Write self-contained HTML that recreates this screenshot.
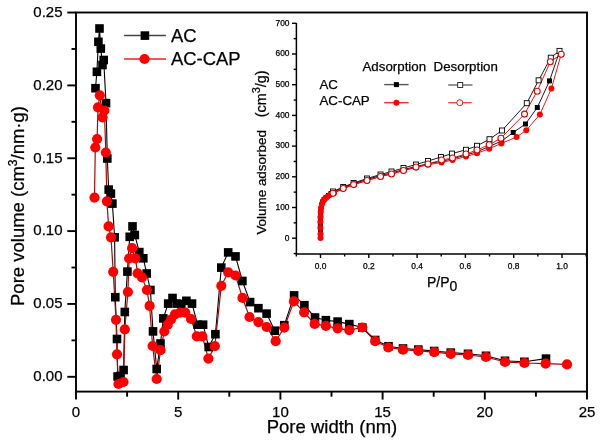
<!DOCTYPE html><html><head><meta charset="utf-8"><style>html,body{margin:0;padding:0;background:#fff;}svg{display:block;}text{font-family:"Liberation Sans", Arial, sans-serif;stroke:#000;stroke-width:0.25px;}</style></head><body>
<svg width="600" height="440" viewBox="0 0 600 440">
<rect width="600" height="440" fill="#fff"/>
<rect x="76.0" y="12.5" width="511.0" height="379.1" fill="none" stroke="#000" stroke-width="1.9"/>
<line x1="67.3" y1="376.80" x2="76.0" y2="376.80" stroke="#000" stroke-width="1.9"/>
<text x="62.5" y="381.10" font-size="15" text-anchor="end">0.00</text>
<line x1="67.3" y1="303.95" x2="76.0" y2="303.95" stroke="#000" stroke-width="1.9"/>
<text x="62.5" y="308.25" font-size="15" text-anchor="end">0.05</text>
<line x1="67.3" y1="231.10" x2="76.0" y2="231.10" stroke="#000" stroke-width="1.9"/>
<text x="62.5" y="235.40" font-size="15" text-anchor="end">0.10</text>
<line x1="67.3" y1="158.25" x2="76.0" y2="158.25" stroke="#000" stroke-width="1.9"/>
<text x="62.5" y="162.55" font-size="15" text-anchor="end">0.15</text>
<line x1="67.3" y1="85.40" x2="76.0" y2="85.40" stroke="#000" stroke-width="1.9"/>
<text x="62.5" y="89.70" font-size="15" text-anchor="end">0.20</text>
<line x1="67.3" y1="12.55" x2="76.0" y2="12.55" stroke="#000" stroke-width="1.9"/>
<text x="62.5" y="16.85" font-size="15" text-anchor="end">0.25</text>
<line x1="71.5" y1="340.38" x2="76.0" y2="340.38" stroke="#000" stroke-width="1.9"/>
<line x1="71.5" y1="267.52" x2="76.0" y2="267.52" stroke="#000" stroke-width="1.9"/>
<line x1="71.5" y1="194.68" x2="76.0" y2="194.68" stroke="#000" stroke-width="1.9"/>
<line x1="71.5" y1="121.82" x2="76.0" y2="121.82" stroke="#000" stroke-width="1.9"/>
<line x1="71.5" y1="48.98" x2="76.0" y2="48.98" stroke="#000" stroke-width="1.9"/>
<line x1="76.00" y1="391.6" x2="76.00" y2="399.6" stroke="#000" stroke-width="1.9"/>
<text x="76.00" y="417" font-size="15" text-anchor="middle">0</text>
<line x1="178.20" y1="391.6" x2="178.20" y2="399.6" stroke="#000" stroke-width="1.9"/>
<text x="178.20" y="417" font-size="15" text-anchor="middle">5</text>
<line x1="280.40" y1="391.6" x2="280.40" y2="399.6" stroke="#000" stroke-width="1.9"/>
<text x="280.40" y="417" font-size="15" text-anchor="middle">10</text>
<line x1="382.60" y1="391.6" x2="382.60" y2="399.6" stroke="#000" stroke-width="1.9"/>
<text x="382.60" y="417" font-size="15" text-anchor="middle">15</text>
<line x1="484.80" y1="391.6" x2="484.80" y2="399.6" stroke="#000" stroke-width="1.9"/>
<text x="484.80" y="417" font-size="15" text-anchor="middle">20</text>
<line x1="587.00" y1="391.6" x2="587.00" y2="399.6" stroke="#000" stroke-width="1.9"/>
<text x="587.00" y="417" font-size="15" text-anchor="middle">25</text>
<line x1="127.10" y1="391.6" x2="127.10" y2="396.7" stroke="#000" stroke-width="1.9"/>
<line x1="229.30" y1="391.6" x2="229.30" y2="396.7" stroke="#000" stroke-width="1.9"/>
<line x1="331.50" y1="391.6" x2="331.50" y2="396.7" stroke="#000" stroke-width="1.9"/>
<line x1="433.70" y1="391.6" x2="433.70" y2="396.7" stroke="#000" stroke-width="1.9"/>
<line x1="535.90" y1="391.6" x2="535.90" y2="396.7" stroke="#000" stroke-width="1.9"/>
<text x="332" y="432.5" font-size="18.5" text-anchor="middle">Pore width (nm)</text>
<text transform="translate(24.3,206) rotate(-90)" font-size="18.5" text-anchor="middle">Pore volume (cm<tspan font-size="12" dy="-7">3</tspan><tspan dy="7">/nm·g)</tspan></text>
<polyline points="95.5,88.2 96.9,71.8 98.4,41.8 99.5,28.5 100.8,48.6 102.5,65.0 103.7,60.0 106.0,103.1 107.3,158.5 108.7,189.6 110.9,193.6 112.4,203.6 114.6,237.3 115.3,297.2 117.0,339.0 117.6,376.5 120.5,376.0 123.6,370.0 124.8,312.0 127.4,271.6 129.7,236.8 132.5,226.4 134.8,235.0 139.3,252.1 143.3,258.3 146.7,273.5 150.4,290.0 153.0,331.4 156.7,369.0 160.5,343.5 163.3,318.4 168.2,303.6 172.5,298.0 176.8,303.6 181.3,304.0 186.4,300.8 192.0,303.6 197.6,324.7 203.1,324.7 208.7,347.0 215.4,334.2 221.3,267.6 228.2,252.4 235.5,256.4 242.4,281.0 250.1,302.1 258.4,308.2 266.6,313.6 274.8,330.7 284.3,325.2 294.1,295.4 304.4,305.2 315.0,317.5 325.9,320.2 337.6,321.6 349.3,324.1 362.3,327.5 375.2,340.0 388.5,346.3 403.0,348.5 418.3,349.6 434.2,351.0 450.8,352.6 468.0,353.8 486.0,355.8 505.0,360.8 524.4,361.8 546.0,358.6" fill="none" stroke="#000" stroke-width="1.1"/>
<polyline points="94.5,197.6 95.3,147.5 97.1,139.0 98.0,107.3 99.8,95.3 102.5,117.3 104.4,110.5 105.8,152.5 106.9,201.3 108.6,226.4 111.0,237.3 113.2,271.8 116.0,319.8 117.0,354.3 118.5,384.0 123.5,382.0 124.8,329.4 127.9,292.0 129.1,258.5 132.1,248.2 135.4,258.3 137.6,273.4 142.0,277.3 146.9,290.0 149.6,305.9 152.6,346.0 156.7,379.0 160.5,350.2 164.3,331.5 167.7,324.7 171.0,319.5 175.0,314.4 180.2,312.7 185.3,312.7 191.0,319.0 196.8,336.3 202.3,336.3 208.4,358.6 214.8,346.2 221.3,285.8 228.2,272.4 235.5,275.5 242.5,297.9 249.5,317.0 258.4,322.1 266.6,327.0 275.7,341.2 284.3,327.6 293.9,301.4 304.1,312.3 314.7,323.9 325.9,325.9 337.6,328.3 349.3,330.2 362.3,327.5 375.2,341.2 388.3,347.5 403.0,349.7 418.3,350.8 434.2,352.2 450.8,353.8 468.0,355.0 486.0,357.0 505.0,362.0 524.4,363.0 545.6,363.6 567.0,364.4" fill="none" stroke="#a80808" stroke-width="1.2"/>
<rect x="91.2" y="83.9" width="8.6" height="8.6" fill="#000"/>
<rect x="92.6" y="67.5" width="8.6" height="8.6" fill="#000"/>
<rect x="94.1" y="37.5" width="8.6" height="8.6" fill="#000"/>
<rect x="95.2" y="24.2" width="8.6" height="8.6" fill="#000"/>
<rect x="96.5" y="44.3" width="8.6" height="8.6" fill="#000"/>
<rect x="98.2" y="60.7" width="8.6" height="8.6" fill="#000"/>
<rect x="99.4" y="55.7" width="8.6" height="8.6" fill="#000"/>
<rect x="101.7" y="98.8" width="8.6" height="8.6" fill="#000"/>
<rect x="103.0" y="154.2" width="8.6" height="8.6" fill="#000"/>
<rect x="104.4" y="185.3" width="8.6" height="8.6" fill="#000"/>
<rect x="106.6" y="189.3" width="8.6" height="8.6" fill="#000"/>
<rect x="108.1" y="199.3" width="8.6" height="8.6" fill="#000"/>
<rect x="110.3" y="233.0" width="8.6" height="8.6" fill="#000"/>
<rect x="111.0" y="292.9" width="8.6" height="8.6" fill="#000"/>
<rect x="112.7" y="334.7" width="8.6" height="8.6" fill="#000"/>
<rect x="113.3" y="372.2" width="8.6" height="8.6" fill="#000"/>
<rect x="116.2" y="371.7" width="8.6" height="8.6" fill="#000"/>
<rect x="119.3" y="365.7" width="8.6" height="8.6" fill="#000"/>
<rect x="120.5" y="307.7" width="8.6" height="8.6" fill="#000"/>
<rect x="123.1" y="267.3" width="8.6" height="8.6" fill="#000"/>
<rect x="125.4" y="232.5" width="8.6" height="8.6" fill="#000"/>
<rect x="128.2" y="222.1" width="8.6" height="8.6" fill="#000"/>
<rect x="130.5" y="230.7" width="8.6" height="8.6" fill="#000"/>
<rect x="135.0" y="247.8" width="8.6" height="8.6" fill="#000"/>
<rect x="139.0" y="254.0" width="8.6" height="8.6" fill="#000"/>
<rect x="142.4" y="269.2" width="8.6" height="8.6" fill="#000"/>
<rect x="146.1" y="285.7" width="8.6" height="8.6" fill="#000"/>
<rect x="148.7" y="327.1" width="8.6" height="8.6" fill="#000"/>
<rect x="152.4" y="364.7" width="8.6" height="8.6" fill="#000"/>
<rect x="156.2" y="339.2" width="8.6" height="8.6" fill="#000"/>
<rect x="159.0" y="314.1" width="8.6" height="8.6" fill="#000"/>
<rect x="163.9" y="299.3" width="8.6" height="8.6" fill="#000"/>
<rect x="168.2" y="293.7" width="8.6" height="8.6" fill="#000"/>
<rect x="172.5" y="299.3" width="8.6" height="8.6" fill="#000"/>
<rect x="177.0" y="299.7" width="8.6" height="8.6" fill="#000"/>
<rect x="182.1" y="296.5" width="8.6" height="8.6" fill="#000"/>
<rect x="187.7" y="299.3" width="8.6" height="8.6" fill="#000"/>
<rect x="193.3" y="320.4" width="8.6" height="8.6" fill="#000"/>
<rect x="198.8" y="320.4" width="8.6" height="8.6" fill="#000"/>
<rect x="204.4" y="342.7" width="8.6" height="8.6" fill="#000"/>
<rect x="211.1" y="329.9" width="8.6" height="8.6" fill="#000"/>
<rect x="217.0" y="263.3" width="8.6" height="8.6" fill="#000"/>
<rect x="223.9" y="248.1" width="8.6" height="8.6" fill="#000"/>
<rect x="231.2" y="252.1" width="8.6" height="8.6" fill="#000"/>
<rect x="238.1" y="276.7" width="8.6" height="8.6" fill="#000"/>
<rect x="245.8" y="297.8" width="8.6" height="8.6" fill="#000"/>
<rect x="254.1" y="303.9" width="8.6" height="8.6" fill="#000"/>
<rect x="262.3" y="309.3" width="8.6" height="8.6" fill="#000"/>
<rect x="270.5" y="326.4" width="8.6" height="8.6" fill="#000"/>
<rect x="280.0" y="320.9" width="8.6" height="8.6" fill="#000"/>
<rect x="289.8" y="291.1" width="8.6" height="8.6" fill="#000"/>
<rect x="300.1" y="300.9" width="8.6" height="8.6" fill="#000"/>
<rect x="310.7" y="313.2" width="8.6" height="8.6" fill="#000"/>
<rect x="321.6" y="315.9" width="8.6" height="8.6" fill="#000"/>
<rect x="333.3" y="317.3" width="8.6" height="8.6" fill="#000"/>
<rect x="345.0" y="319.8" width="8.6" height="8.6" fill="#000"/>
<rect x="358.0" y="323.2" width="8.6" height="8.6" fill="#000"/>
<rect x="370.9" y="335.7" width="8.6" height="8.6" fill="#000"/>
<rect x="384.2" y="342.0" width="8.6" height="8.6" fill="#000"/>
<rect x="398.7" y="344.2" width="8.6" height="8.6" fill="#000"/>
<rect x="414.0" y="345.3" width="8.6" height="8.6" fill="#000"/>
<rect x="429.9" y="346.7" width="8.6" height="8.6" fill="#000"/>
<rect x="446.5" y="348.3" width="8.6" height="8.6" fill="#000"/>
<rect x="463.7" y="349.5" width="8.6" height="8.6" fill="#000"/>
<rect x="481.7" y="351.5" width="8.6" height="8.6" fill="#000"/>
<rect x="500.7" y="356.5" width="8.6" height="8.6" fill="#000"/>
<rect x="520.1" y="357.5" width="8.6" height="8.6" fill="#000"/>
<rect x="541.7" y="354.3" width="8.6" height="8.6" fill="#000"/>
<circle cx="94.5" cy="197.6" r="5.1" fill="#ff0000"/>
<circle cx="95.3" cy="147.5" r="5.1" fill="#ff0000"/>
<circle cx="97.1" cy="139.0" r="5.1" fill="#ff0000"/>
<circle cx="98.0" cy="107.3" r="5.1" fill="#ff0000"/>
<circle cx="99.8" cy="95.3" r="5.1" fill="#ff0000"/>
<circle cx="102.5" cy="117.3" r="5.1" fill="#ff0000"/>
<circle cx="104.4" cy="110.5" r="5.1" fill="#ff0000"/>
<circle cx="105.8" cy="152.5" r="5.1" fill="#ff0000"/>
<circle cx="106.9" cy="201.3" r="5.1" fill="#ff0000"/>
<circle cx="108.6" cy="226.4" r="5.1" fill="#ff0000"/>
<circle cx="111.0" cy="237.3" r="5.1" fill="#ff0000"/>
<circle cx="113.2" cy="271.8" r="5.1" fill="#ff0000"/>
<circle cx="116.0" cy="319.8" r="5.1" fill="#ff0000"/>
<circle cx="117.0" cy="354.3" r="5.1" fill="#ff0000"/>
<circle cx="118.5" cy="384.0" r="5.1" fill="#ff0000"/>
<circle cx="123.5" cy="382.0" r="5.1" fill="#ff0000"/>
<circle cx="124.8" cy="329.4" r="5.1" fill="#ff0000"/>
<circle cx="127.9" cy="292.0" r="5.1" fill="#ff0000"/>
<circle cx="129.1" cy="258.5" r="5.1" fill="#ff0000"/>
<circle cx="132.1" cy="248.2" r="5.1" fill="#ff0000"/>
<circle cx="135.4" cy="258.3" r="5.1" fill="#ff0000"/>
<circle cx="137.6" cy="273.4" r="5.1" fill="#ff0000"/>
<circle cx="142.0" cy="277.3" r="5.1" fill="#ff0000"/>
<circle cx="146.9" cy="290.0" r="5.1" fill="#ff0000"/>
<circle cx="149.6" cy="305.9" r="5.1" fill="#ff0000"/>
<circle cx="152.6" cy="346.0" r="5.1" fill="#ff0000"/>
<circle cx="156.7" cy="379.0" r="5.1" fill="#ff0000"/>
<circle cx="160.5" cy="350.2" r="5.1" fill="#ff0000"/>
<circle cx="164.3" cy="331.5" r="5.1" fill="#ff0000"/>
<circle cx="167.7" cy="324.7" r="5.1" fill="#ff0000"/>
<circle cx="171.0" cy="319.5" r="5.1" fill="#ff0000"/>
<circle cx="175.0" cy="314.4" r="5.1" fill="#ff0000"/>
<circle cx="180.2" cy="312.7" r="5.1" fill="#ff0000"/>
<circle cx="185.3" cy="312.7" r="5.1" fill="#ff0000"/>
<circle cx="191.0" cy="319.0" r="5.1" fill="#ff0000"/>
<circle cx="196.8" cy="336.3" r="5.1" fill="#ff0000"/>
<circle cx="202.3" cy="336.3" r="5.1" fill="#ff0000"/>
<circle cx="208.4" cy="358.6" r="5.1" fill="#ff0000"/>
<circle cx="214.8" cy="346.2" r="5.1" fill="#ff0000"/>
<circle cx="221.3" cy="285.8" r="5.1" fill="#ff0000"/>
<circle cx="228.2" cy="272.4" r="5.1" fill="#ff0000"/>
<circle cx="235.5" cy="275.5" r="5.1" fill="#ff0000"/>
<circle cx="242.5" cy="297.9" r="5.1" fill="#ff0000"/>
<circle cx="249.5" cy="317.0" r="5.1" fill="#ff0000"/>
<circle cx="258.4" cy="322.1" r="5.1" fill="#ff0000"/>
<circle cx="266.6" cy="327.0" r="5.1" fill="#ff0000"/>
<circle cx="275.7" cy="341.2" r="5.1" fill="#ff0000"/>
<circle cx="284.3" cy="327.6" r="5.1" fill="#ff0000"/>
<circle cx="293.9" cy="301.4" r="5.1" fill="#ff0000"/>
<circle cx="304.1" cy="312.3" r="5.1" fill="#ff0000"/>
<circle cx="314.7" cy="323.9" r="5.1" fill="#ff0000"/>
<circle cx="325.9" cy="325.9" r="5.1" fill="#ff0000"/>
<circle cx="337.6" cy="328.3" r="5.1" fill="#ff0000"/>
<circle cx="349.3" cy="330.2" r="5.1" fill="#ff0000"/>
<circle cx="362.3" cy="327.5" r="5.1" fill="#ff0000"/>
<circle cx="375.2" cy="341.2" r="5.1" fill="#ff0000"/>
<circle cx="388.3" cy="347.5" r="5.1" fill="#ff0000"/>
<circle cx="403.0" cy="349.7" r="5.1" fill="#ff0000"/>
<circle cx="418.3" cy="350.8" r="5.1" fill="#ff0000"/>
<circle cx="434.2" cy="352.2" r="5.1" fill="#ff0000"/>
<circle cx="450.8" cy="353.8" r="5.1" fill="#ff0000"/>
<circle cx="468.0" cy="355.0" r="5.1" fill="#ff0000"/>
<circle cx="486.0" cy="357.0" r="5.1" fill="#ff0000"/>
<circle cx="505.0" cy="362.0" r="5.1" fill="#ff0000"/>
<circle cx="524.4" cy="363.0" r="5.1" fill="#ff0000"/>
<circle cx="545.6" cy="363.6" r="5.1" fill="#ff0000"/>
<circle cx="567.0" cy="364.4" r="5.1" fill="#ff0000"/>
<line x1="124.1" y1="35.6" x2="165.9" y2="35.6" stroke="#444" stroke-width="1.5"/>
<rect x="140.6" y="31.3" width="8.6" height="8.6" fill="#000"/>
<line x1="124.1" y1="59" x2="165.9" y2="59" stroke="#e82020" stroke-width="1.5"/>
<circle cx="144.5" cy="59" r="5.1" fill="#ff0000"/>
<text x="171" y="42.3" font-size="18.4">AC</text>
<text x="171" y="64.9" font-size="18.4">AC-CAP</text>
<polyline points="296.4,23.0 296.4,254.0 587.0,254.0" fill="none" stroke="#000" stroke-width="1.5"/>
<line x1="292" y1="238.20" x2="296.4" y2="238.20" stroke="#000" stroke-width="1.4"/>
<text x="289.5" y="240.50" font-size="8.4" text-anchor="end">0</text>
<line x1="292" y1="207.50" x2="296.4" y2="207.50" stroke="#000" stroke-width="1.4"/>
<text x="289.5" y="209.80" font-size="8.4" text-anchor="end">100</text>
<line x1="292" y1="176.80" x2="296.4" y2="176.80" stroke="#000" stroke-width="1.4"/>
<text x="289.5" y="179.10" font-size="8.4" text-anchor="end">200</text>
<line x1="292" y1="146.10" x2="296.4" y2="146.10" stroke="#000" stroke-width="1.4"/>
<text x="289.5" y="148.40" font-size="8.4" text-anchor="end">300</text>
<line x1="292" y1="115.40" x2="296.4" y2="115.40" stroke="#000" stroke-width="1.4"/>
<text x="289.5" y="117.70" font-size="8.4" text-anchor="end">400</text>
<line x1="292" y1="84.70" x2="296.4" y2="84.70" stroke="#000" stroke-width="1.4"/>
<text x="289.5" y="87.00" font-size="8.4" text-anchor="end">500</text>
<line x1="292" y1="54.00" x2="296.4" y2="54.00" stroke="#000" stroke-width="1.4"/>
<text x="289.5" y="56.30" font-size="8.4" text-anchor="end">600</text>
<line x1="292" y1="23.30" x2="296.4" y2="23.30" stroke="#000" stroke-width="1.4"/>
<text x="289.5" y="25.60" font-size="8.4" text-anchor="end">700</text>
<line x1="293.7" y1="253.55" x2="296.4" y2="253.55" stroke="#000" stroke-width="1.4"/>
<line x1="293.7" y1="222.85" x2="296.4" y2="222.85" stroke="#000" stroke-width="1.4"/>
<line x1="293.7" y1="192.15" x2="296.4" y2="192.15" stroke="#000" stroke-width="1.4"/>
<line x1="293.7" y1="161.45" x2="296.4" y2="161.45" stroke="#000" stroke-width="1.4"/>
<line x1="293.7" y1="130.75" x2="296.4" y2="130.75" stroke="#000" stroke-width="1.4"/>
<line x1="293.7" y1="100.05" x2="296.4" y2="100.05" stroke="#000" stroke-width="1.4"/>
<line x1="293.7" y1="69.35" x2="296.4" y2="69.35" stroke="#000" stroke-width="1.4"/>
<line x1="293.7" y1="38.65" x2="296.4" y2="38.65" stroke="#000" stroke-width="1.4"/>
<line x1="320.50" y1="254.0" x2="320.50" y2="258" stroke="#000" stroke-width="1.4"/>
<text x="320.50" y="269" font-size="8.4" text-anchor="middle">0.0</text>
<line x1="368.80" y1="254.0" x2="368.80" y2="258" stroke="#000" stroke-width="1.4"/>
<text x="368.80" y="269" font-size="8.4" text-anchor="middle">0.2</text>
<line x1="417.10" y1="254.0" x2="417.10" y2="258" stroke="#000" stroke-width="1.4"/>
<text x="417.10" y="269" font-size="8.4" text-anchor="middle">0.4</text>
<line x1="465.40" y1="254.0" x2="465.40" y2="258" stroke="#000" stroke-width="1.4"/>
<text x="465.40" y="269" font-size="8.4" text-anchor="middle">0.6</text>
<line x1="513.70" y1="254.0" x2="513.70" y2="258" stroke="#000" stroke-width="1.4"/>
<text x="513.70" y="269" font-size="8.4" text-anchor="middle">0.8</text>
<line x1="562.00" y1="254.0" x2="562.00" y2="258" stroke="#000" stroke-width="1.4"/>
<text x="562.00" y="269" font-size="8.4" text-anchor="middle">1.0</text>
<line x1="296.35" y1="254.0" x2="296.35" y2="256.5" stroke="#000" stroke-width="1.4"/>
<line x1="344.65" y1="254.0" x2="344.65" y2="256.5" stroke="#000" stroke-width="1.4"/>
<line x1="392.95" y1="254.0" x2="392.95" y2="256.5" stroke="#000" stroke-width="1.4"/>
<line x1="441.25" y1="254.0" x2="441.25" y2="256.5" stroke="#000" stroke-width="1.4"/>
<line x1="489.55" y1="254.0" x2="489.55" y2="256.5" stroke="#000" stroke-width="1.4"/>
<line x1="537.85" y1="254.0" x2="537.85" y2="256.5" stroke="#000" stroke-width="1.4"/>
<line x1="586.15" y1="254.0" x2="586.15" y2="256.5" stroke="#000" stroke-width="1.4"/>
<text x="427" y="286.7" font-size="14">P/P<tspan dy="4.6">0</tspan></text>
<text transform="translate(266.3,234.6) rotate(-90)" font-size="13.4" textLength="104.5" lengthAdjust="spacingAndGlyphs">Volume adsorbed</text>
<text transform="translate(266.2,117.3) rotate(-90)" font-size="14.4">(cm<tspan font-size="11" dy="-6.5">3</tspan><tspan dy="6.5">/g)</tspan></text>
<polyline points="320.5,237.5 320.5,230.7 320.4,225.0 320.4,219.0 320.6,214.0 320.9,209.0 321.6,205.0 322.6,202.0 324.0,199.6 326.0,197.6 328.5,195.5 331.0,193.5 333.5,192.0 343.2,187.5 354.0,183.6 367.0,179.5 380.5,175.5 391.5,173.0 403.5,169.5 416.0,166.5 428.0,163.8 441.5,161.3 452.5,158.8 466.0,155.0 477.0,151.8 489.2,146.5 501.7,141.0 513.2,132.5 525.5,124.0 537.3,107.5 549.5,80.9 559.5,51.5" fill="none" stroke="#000" stroke-width="0.9"/>
<polyline points="559.5,50.9 550.8,57.7 538.6,80.3 526.8,103.2 502.0,130.5 489.5,139.2 477.0,145.8 466.0,149.8 452.0,153.6 441.0,157.0 428.0,161.0 416.0,164.5 403.5,168.0 391.5,171.5 380.5,174.5 367.0,178.5 353.6,183.0 343.2,187.0 333.0,191.5" fill="none" stroke="#000" stroke-width="0.9"/>
<polyline points="320.5,238.0 320.5,234.0 320.4,228.0 320.4,222.0 320.5,217.0 320.7,212.0 321.1,208.0 321.9,204.0 323.2,201.0 325.0,198.8 327.3,196.8 329.8,195.0 332.0,193.8 334.0,193.0 343.2,188.5 354.0,184.6 367.0,180.5 380.5,176.5 391.5,174.0 403.5,170.5 416.0,167.5 428.0,164.8 441.5,162.5 452.5,160.0 466.0,156.5 477.0,153.3 489.2,148.7 501.3,143.5 516.6,137.0 526.3,130.2 539.9,114.5 551.4,88.5 561.2,54.2" fill="none" stroke="#e00000" stroke-width="0.9"/>
<polyline points="561.2,54.2 550.3,61.8 537.2,91.2 524.5,114.1 500.9,138.2 489.2,144.7 477.0,150.0 466.0,154.0 452.5,158.0 441.5,160.0 428.0,164.0 416.0,167.0 403.5,170.5 391.5,174.0 380.5,176.5 367.0,180.5 353.6,184.6 343.2,188.5 333.0,193.3" fill="none" stroke="#e00000" stroke-width="0.9"/>
<rect x="318.0" y="235.0" width="5.0" height="5.0" fill="#000"/>
<rect x="318.0" y="228.2" width="5.0" height="5.0" fill="#000"/>
<rect x="317.9" y="222.5" width="5.0" height="5.0" fill="#000"/>
<rect x="317.9" y="216.5" width="5.0" height="5.0" fill="#000"/>
<rect x="318.1" y="211.5" width="5.0" height="5.0" fill="#000"/>
<rect x="318.4" y="206.5" width="5.0" height="5.0" fill="#000"/>
<rect x="319.1" y="202.5" width="5.0" height="5.0" fill="#000"/>
<rect x="320.1" y="199.5" width="5.0" height="5.0" fill="#000"/>
<rect x="321.5" y="197.1" width="5.0" height="5.0" fill="#000"/>
<rect x="323.5" y="195.1" width="5.0" height="5.0" fill="#000"/>
<rect x="326.0" y="193.0" width="5.0" height="5.0" fill="#000"/>
<rect x="328.5" y="191.0" width="5.0" height="5.0" fill="#000"/>
<rect x="331.0" y="189.5" width="5.0" height="5.0" fill="#000"/>
<rect x="340.7" y="185.0" width="5.0" height="5.0" fill="#000"/>
<rect x="351.5" y="181.1" width="5.0" height="5.0" fill="#000"/>
<rect x="364.5" y="177.0" width="5.0" height="5.0" fill="#000"/>
<rect x="378.0" y="173.0" width="5.0" height="5.0" fill="#000"/>
<rect x="389.0" y="170.5" width="5.0" height="5.0" fill="#000"/>
<rect x="401.0" y="167.0" width="5.0" height="5.0" fill="#000"/>
<rect x="413.5" y="164.0" width="5.0" height="5.0" fill="#000"/>
<rect x="425.5" y="161.3" width="5.0" height="5.0" fill="#000"/>
<rect x="439.0" y="158.8" width="5.0" height="5.0" fill="#000"/>
<rect x="450.0" y="156.3" width="5.0" height="5.0" fill="#000"/>
<rect x="463.5" y="152.5" width="5.0" height="5.0" fill="#000"/>
<rect x="474.5" y="149.3" width="5.0" height="5.0" fill="#000"/>
<rect x="486.7" y="144.0" width="5.0" height="5.0" fill="#000"/>
<rect x="499.2" y="138.5" width="5.0" height="5.0" fill="#000"/>
<rect x="510.7" y="130.0" width="5.0" height="5.0" fill="#000"/>
<rect x="523.0" y="121.5" width="5.0" height="5.0" fill="#000"/>
<rect x="534.8" y="105.0" width="5.0" height="5.0" fill="#000"/>
<rect x="547.0" y="78.4" width="5.0" height="5.0" fill="#000"/>
<rect x="557.0" y="49.0" width="5.0" height="5.0" fill="#000"/>
<rect x="557.0" y="48.4" width="5.0" height="5.0" fill="#fff" stroke="#000" stroke-width="0.9"/>
<rect x="548.3" y="55.2" width="5.0" height="5.0" fill="#fff" stroke="#000" stroke-width="0.9"/>
<rect x="536.1" y="77.8" width="5.0" height="5.0" fill="#fff" stroke="#000" stroke-width="0.9"/>
<rect x="524.3" y="100.7" width="5.0" height="5.0" fill="#fff" stroke="#000" stroke-width="0.9"/>
<rect x="499.5" y="128.0" width="5.0" height="5.0" fill="#fff" stroke="#000" stroke-width="0.9"/>
<rect x="487.0" y="136.7" width="5.0" height="5.0" fill="#fff" stroke="#000" stroke-width="0.9"/>
<rect x="474.5" y="143.3" width="5.0" height="5.0" fill="#fff" stroke="#000" stroke-width="0.9"/>
<rect x="463.5" y="147.3" width="5.0" height="5.0" fill="#fff" stroke="#000" stroke-width="0.9"/>
<rect x="449.5" y="151.1" width="5.0" height="5.0" fill="#fff" stroke="#000" stroke-width="0.9"/>
<rect x="438.5" y="154.5" width="5.0" height="5.0" fill="#fff" stroke="#000" stroke-width="0.9"/>
<rect x="425.5" y="158.5" width="5.0" height="5.0" fill="#fff" stroke="#000" stroke-width="0.9"/>
<rect x="413.5" y="162.0" width="5.0" height="5.0" fill="#fff" stroke="#000" stroke-width="0.9"/>
<rect x="401.0" y="165.5" width="5.0" height="5.0" fill="#fff" stroke="#000" stroke-width="0.9"/>
<rect x="389.0" y="169.0" width="5.0" height="5.0" fill="#fff" stroke="#000" stroke-width="0.9"/>
<rect x="378.0" y="172.0" width="5.0" height="5.0" fill="#fff" stroke="#000" stroke-width="0.9"/>
<rect x="364.5" y="176.0" width="5.0" height="5.0" fill="#fff" stroke="#000" stroke-width="0.9"/>
<rect x="351.1" y="180.5" width="5.0" height="5.0" fill="#fff" stroke="#000" stroke-width="0.9"/>
<rect x="340.7" y="184.5" width="5.0" height="5.0" fill="#fff" stroke="#000" stroke-width="0.9"/>
<rect x="330.5" y="189.0" width="5.0" height="5.0" fill="#fff" stroke="#000" stroke-width="0.9"/>
<circle cx="320.5" cy="238.0" r="3.0" fill="#ff0000"/>
<circle cx="320.5" cy="234.0" r="3.0" fill="#ff0000"/>
<circle cx="320.4" cy="228.0" r="3.0" fill="#ff0000"/>
<circle cx="320.4" cy="222.0" r="3.0" fill="#ff0000"/>
<circle cx="320.5" cy="217.0" r="3.0" fill="#ff0000"/>
<circle cx="320.7" cy="212.0" r="3.0" fill="#ff0000"/>
<circle cx="321.1" cy="208.0" r="3.0" fill="#ff0000"/>
<circle cx="321.9" cy="204.0" r="3.0" fill="#ff0000"/>
<circle cx="323.2" cy="201.0" r="3.0" fill="#ff0000"/>
<circle cx="325.0" cy="198.8" r="3.0" fill="#ff0000"/>
<circle cx="327.3" cy="196.8" r="3.0" fill="#ff0000"/>
<circle cx="329.8" cy="195.0" r="3.0" fill="#ff0000"/>
<circle cx="332.0" cy="193.8" r="3.0" fill="#ff0000"/>
<circle cx="334.0" cy="193.0" r="3.0" fill="#ff0000"/>
<circle cx="343.2" cy="188.5" r="3.0" fill="#ff0000"/>
<circle cx="354.0" cy="184.6" r="3.0" fill="#ff0000"/>
<circle cx="367.0" cy="180.5" r="3.0" fill="#ff0000"/>
<circle cx="380.5" cy="176.5" r="3.0" fill="#ff0000"/>
<circle cx="391.5" cy="174.0" r="3.0" fill="#ff0000"/>
<circle cx="403.5" cy="170.5" r="3.0" fill="#ff0000"/>
<circle cx="416.0" cy="167.5" r="3.0" fill="#ff0000"/>
<circle cx="428.0" cy="164.8" r="3.0" fill="#ff0000"/>
<circle cx="441.5" cy="162.5" r="3.0" fill="#ff0000"/>
<circle cx="452.5" cy="160.0" r="3.0" fill="#ff0000"/>
<circle cx="466.0" cy="156.5" r="3.0" fill="#ff0000"/>
<circle cx="477.0" cy="153.3" r="3.0" fill="#ff0000"/>
<circle cx="489.2" cy="148.7" r="3.0" fill="#ff0000"/>
<circle cx="501.3" cy="143.5" r="3.0" fill="#ff0000"/>
<circle cx="516.6" cy="137.0" r="3.0" fill="#ff0000"/>
<circle cx="526.3" cy="130.2" r="3.0" fill="#ff0000"/>
<circle cx="539.9" cy="114.5" r="3.0" fill="#ff0000"/>
<circle cx="551.4" cy="88.5" r="3.0" fill="#ff0000"/>
<circle cx="561.2" cy="54.2" r="3.0" fill="#ff0000"/>
<circle cx="561.2" cy="54.2" r="3.0" fill="#fff" stroke="#e00000" stroke-width="1.1"/>
<circle cx="550.3" cy="61.8" r="3.0" fill="#fff" stroke="#e00000" stroke-width="1.1"/>
<circle cx="537.2" cy="91.2" r="3.0" fill="#fff" stroke="#e00000" stroke-width="1.1"/>
<circle cx="524.5" cy="114.1" r="3.0" fill="#fff" stroke="#e00000" stroke-width="1.1"/>
<circle cx="500.9" cy="138.2" r="3.0" fill="#fff" stroke="#e00000" stroke-width="1.1"/>
<circle cx="489.2" cy="144.7" r="3.0" fill="#fff" stroke="#e00000" stroke-width="1.1"/>
<circle cx="477.0" cy="150.0" r="3.0" fill="#fff" stroke="#e00000" stroke-width="1.1"/>
<circle cx="466.0" cy="154.0" r="3.0" fill="#fff" stroke="#e00000" stroke-width="1.1"/>
<circle cx="452.5" cy="158.0" r="3.0" fill="#fff" stroke="#e00000" stroke-width="1.1"/>
<circle cx="441.5" cy="160.0" r="3.0" fill="#fff" stroke="#e00000" stroke-width="1.1"/>
<circle cx="428.0" cy="164.0" r="3.0" fill="#fff" stroke="#e00000" stroke-width="1.1"/>
<circle cx="416.0" cy="167.0" r="3.0" fill="#fff" stroke="#e00000" stroke-width="1.1"/>
<circle cx="403.5" cy="170.5" r="3.0" fill="#fff" stroke="#e00000" stroke-width="1.1"/>
<circle cx="391.5" cy="174.0" r="3.0" fill="#fff" stroke="#e00000" stroke-width="1.1"/>
<circle cx="380.5" cy="176.5" r="3.0" fill="#fff" stroke="#e00000" stroke-width="1.1"/>
<circle cx="367.0" cy="180.5" r="3.0" fill="#fff" stroke="#e00000" stroke-width="1.1"/>
<circle cx="353.6" cy="184.6" r="3.0" fill="#fff" stroke="#e00000" stroke-width="1.1"/>
<circle cx="343.2" cy="188.5" r="3.0" fill="#fff" stroke="#e00000" stroke-width="1.1"/>
<circle cx="333.0" cy="193.3" r="3.0" fill="#fff" stroke="#e00000" stroke-width="1.1"/>
<text x="362.5" y="70.6" font-size="13.3">Adsorption</text>
<text x="433.6" y="71" font-size="13.3">Desorption</text>
<text x="319.5" y="89" font-size="13.3">AC</text>
<text x="319.5" y="105.4" font-size="13.3">AC-CAP</text>
<line x1="384.2" y1="84.6" x2="408.6" y2="84.6" stroke="#555" stroke-width="1.4"/>
<rect x="393.9" y="82.1" width="5.0" height="5.0" fill="#000"/>
<line x1="384.2" y1="102.7" x2="408.6" y2="102.7" stroke="#e83030" stroke-width="1.4"/>
<circle cx="396.4" cy="102.7" r="3.0" fill="#ff0000"/>
<line x1="448.2" y1="85" x2="472.5" y2="85" stroke="#666" stroke-width="1.4"/>
<rect x="457.7" y="82.5" width="5.0" height="5.0" fill="#fff" stroke="#222" stroke-width="0.9"/>
<line x1="448.2" y1="102.7" x2="471.7" y2="102.7" stroke="#ee4848" stroke-width="1.4"/>
<circle cx="459.8" cy="102.7" r="3.0" fill="#fff" stroke="#e00000" stroke-width="0.9"/>
</svg></body></html>
